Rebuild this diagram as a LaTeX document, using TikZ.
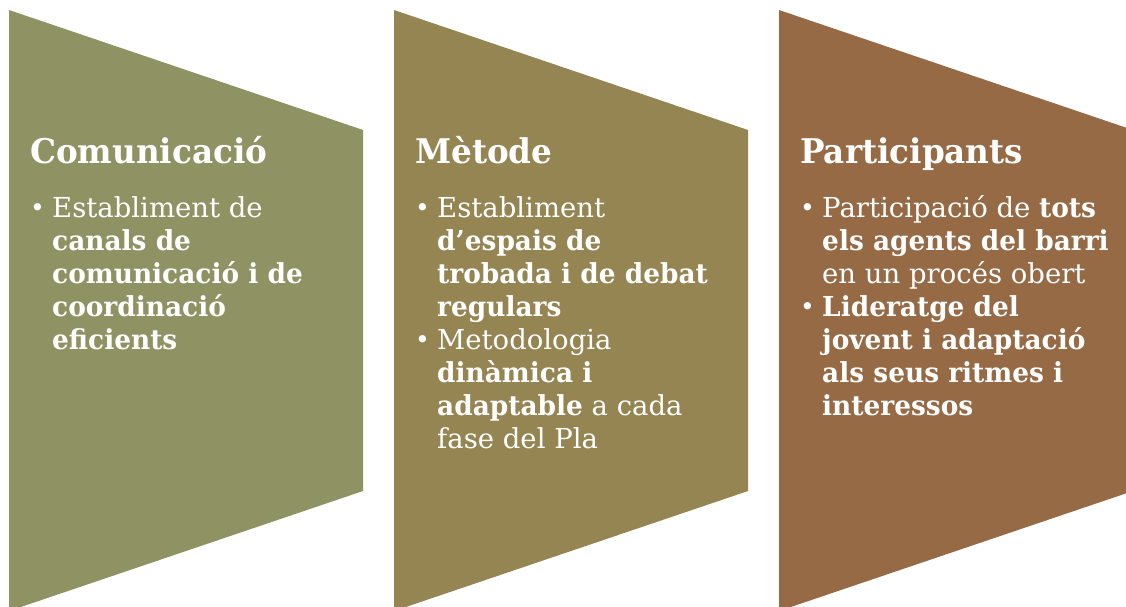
\documentclass[tikz,border=0pt]{standalone}
\usepackage{fontspec}
\setmainfont{DejaVu Serif}[BoldFeatures={FakeStretch=0.96}]
\definecolor{colA}{RGB}{143,147,100}
\definecolor{colB}{RGB}{149,133,82}
\definecolor{colC}{RGB}{149,106,69}
\tikzset{
  heading/.style={anchor=base west, inner sep=0pt, text=white, font=\fontsize{34}{40}\selectfont\bfseries},
  bodybox/.style={anchor=base west, inner sep=0pt, text=white},
}
\newcommand{\bul}{\noindent\hangindent=22pt\hangafter=1\makebox[22pt][l]{\raisebox{0.5pt}{\fontsize{25}{25}\selectfont •}}}
\newcommand{\bodytext}[1]{\parbox[t]{420pt}{\fontsize{27.5}{33}\selectfont\parskip=0pt\parindent=0pt #1}}
\begin{document}
\begin{tikzpicture}[x=1pt,y=-1pt]
\useasboundingbox (0,0) rectangle (1126,606);
\begin{scope}
\clip (0,0) rectangle (1126,606);
\fill[colA] (9,10) -- (363,130) -- (363,491) -- (9,611) -- cycle;
\fill[colB] (394,10) -- (748,130) -- (748,491) -- (394,611) -- cycle;
\fill[colC] (779,10) -- (1133,130) -- (1133,491) -- (779,611) -- cycle;
\end{scope}
\node[heading] (h1) at (30,163) {Comunicació};
\node[bodybox] (b1) at (30,217) {\bodytext{\bul Establiment de\newline
\textbf{canals de\newline comunicació i de\newline coordinació\newline eficients}}};
\node[heading] (h2) at (415,163) {Mètode};
\node[bodybox] (b2) at (415,217) {\bodytext{\bul Establiment\newline
\textbf{d’espais de\newline trobada i de debat\newline regulars}\par
\bul Metodologia\newline \textbf{dinàmica i\newline adaptable} a cada\newline fase del Pla}};
\node[heading] (h3) at (800,163) {Participants};
\node[bodybox] (b3) at (800,217) {\bodytext{\bul Participació de \textbf{tots\newline
els agents del barri}\newline en un procés obert\par
\bul \textbf{Lideratge del\newline jovent i adaptació\newline als seus ritmes i\newline interessos}}};
\end{tikzpicture}
\end{document}
